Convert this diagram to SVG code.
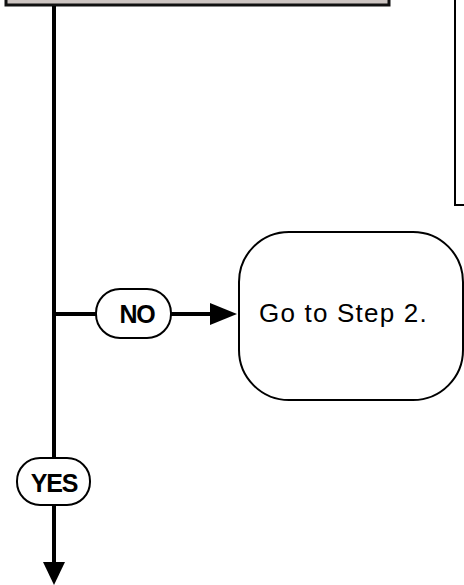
<svg xmlns="http://www.w3.org/2000/svg" width="464" height="585" viewBox="0 0 464 585">
<defs>
<style>
.box{fill:#ffffff;stroke:#000000;stroke-width:2}
.pill{fill:#ffffff;stroke:#000000;stroke-width:2}
.line{stroke:#000000;stroke-width:4;fill:none}
.head{fill:#000000;stroke:none}
.lbl{font-family:"Liberation Sans",Arial,sans-serif;font-weight:bold;font-size:25px;letter-spacing:-1.2px;fill:#000000;text-anchor:middle}
.txt{font-family:"Liberation Sans",Arial,sans-serif;font-size:26px;letter-spacing:1.2px;fill:#000000}
</style>
</defs>
<rect width="464" height="585" fill="#ffffff"/>
<g id="top-box">
<rect x="6" y="-30" width="383" height="35" fill="#cdc5c2" stroke="#111111" stroke-width="3"/>
</g>
<g id="side-box">
<rect x="455" y="-10" width="40" height="215" class="box"/>
</g>
<g id="connectors">
<line x1="54" y1="6" x2="54" y2="563" class="line"/>
<line x1="54" y1="314" x2="97" y2="314" class="line"/>
<line x1="171" y1="314" x2="212" y2="314" class="line"/>
<polygon points="210,303 237,314 210,325" class="head"/>
<polygon points="43,562 65,562 54,585" class="head"/>
</g>
<g id="no-label">
<rect x="96" y="289" width="75" height="49" rx="24" ry="24" class="pill"/>
<text x="137" y="323" class="lbl">NO</text>
</g>
<g id="yes-label">
<rect x="17" y="458" width="73" height="47" rx="23" ry="23" class="pill"/>
<text x="54" y="492" class="lbl">YES</text>
</g>
<g id="step2">
<rect x="239" y="232" width="224" height="168" rx="50" ry="50" class="box"/>
<text x="259" y="322" class="txt">Go to Step 2.</text>
</g>
</svg>
